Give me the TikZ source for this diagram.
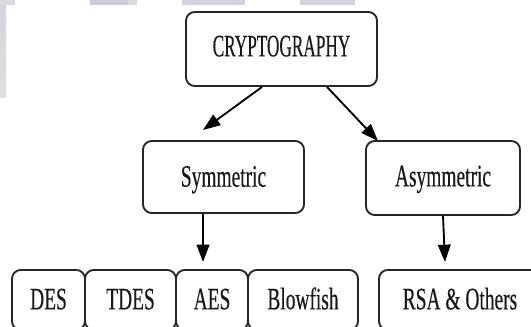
\documentclass[tikz,border=0pt]{standalone}
\usepackage{fontspec}
\setmainfont{Liberation Serif}
\newfontfamily\boxfont[FakeStretch=0.62,FakeBold=0.3]{Liberation Serif}
\newfontfamily\titlefont[FakeStretch=0.55,FakeBold=0.3]{Liberation Serif}
\usetikzlibrary{arrows.meta,calc}

\begin{document}
\begin{tikzpicture}[x=0.75pt,y=-0.75pt,
  box/.style={draw=black!85, line width=1.4pt, rounded corners=6.5pt,
    inner sep=0pt, text=black!90,
    font=\boxfont\fontsize{23.5}{26}\selectfont,
    text height=15.6pt},
  arr/.style={draw=black, line width=1.4pt,
    -{Triangle[length=13pt,width=9.5pt]}},
  strip/.style={fill=#1, draw=none}]

% page and clipping frame
\useasboundingbox (0,0) rectangle (531,327);
\fill[white] (0,0) rectangle (531,327);
\clip (0,0) rectangle (531,327);

% pale bands along the top and left edges
\shade[top color=blue!15!gray!30, bottom color=gray!25] (0,0) rectangle (6,98);
\fill[strip=blue!12!gray!25] (0,0) rectangle (15,5);
\fill[strip=blue!15!gray!35] (90,0) rectangle (128,5);
\fill[strip=gray!30] (128,0) rectangle (137,5);
\fill[strip=blue!15!gray!30] (182,0) rectangle (245,5);
\fill[strip=blue!15!gray!30] (300,0) rectangle (355,5);

% root
\node[box, minimum width=143.25pt, minimum height=55.5pt, text depth=4.5pt,
  font=\titlefont\fontsize{23.5}{26}\selectfont] (crypto) at (281.5,49) {CRYPTOGRAPHY};

% second level
\node[box, minimum width=120.75pt, minimum height=54pt, text depth=1pt] (sym) at (223.5,177) {Symmetric};
\node[box, minimum width=115.5pt, minimum height=55.5pt, text depth=3pt] (asym) at (443,178) {Asymmetric};

% algorithms
\node[box, minimum width=54.75pt, minimum height=45pt, text depth=1.5pt] (des) at (48.5,300) {DES};
\node[box, minimum width=68.25pt, minimum height=45pt, text depth=1.5pt] (tdes) at (130.5,300) {TDES};
\node[box, minimum width=54pt, minimum height=45pt, text depth=1.5pt] (aes) at (212,300) {AES};
\node[box, minimum width=82.5pt, minimum height=45pt, text depth=1.5pt] (blowfish) at (303,300) {Blowfish};
\node[box, minimum width=121.5pt, minimum height=45pt, text depth=1.5pt] (rsa) at (460,300) {RSA \& Others};

% arrow ends that stop short of their boxes
\coordinate (symtip) at (203,130);
\coordinate (asymtip) at (378,141);
\coordinate (aestip) at (203,262);
\coordinate (rsatip) at (445,262);

\draw[arr] ($(crypto.south)+(-19.5,0)$) -- (symtip);
\draw[arr] ($(crypto.south)+(45.5,0)$) -- (asymtip);
\draw[arr] ($(sym.south)+(-20.5,0)$) -- (aestip);
\draw[arr] (asym.south) -- (rsatip);
\end{tikzpicture}
\end{document}
